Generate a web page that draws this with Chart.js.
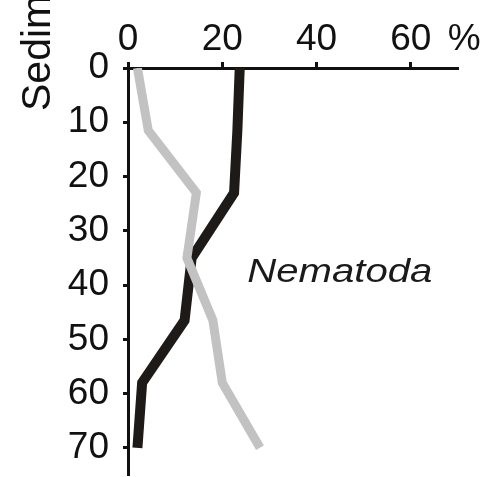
<!DOCTYPE html>
<html>
<head>
<meta charset="utf-8">
<script src="https://cdn.jsdelivr.net/npm/chart.js@4.4.1/dist/chart.umd.min.js"></script>
<style>
  html, body { margin: 0; padding: 0; background: #fff; overflow: hidden; }
  canvas { display: block; }
</style>
</head>
<body>
<canvas id="chart" width="483" height="477"></canvas>
<script>
// depth (cm) of each sample
const depths = [0, 11.5, 23, 35, 46.5, 58, 70];
// percentage per depth
const greySeries = [2, 4.3, 14.5, 12.5, 18, 20, 28];
const blackSeries = [23.7, 23.2, 22.5, 13.5, 12, 3, 2];
const xTicks = [0, 20, 40, 60];
const yTicks = [0, 10, 20, 30, 40, 50, 60, 70];

const font = 'Liberation Sans, Arial, sans-serif';

const toPoints = (vals) => vals.map((v, i) => ({ x: v, y: depths[i] }));

const extras = {
  id: 'extras',
  afterDraw(chart) {
    const ctx = chart.ctx;
    const xs = chart.scales.x, ys = chart.scales.y;
    ctx.save();
    ctx.fillStyle = '#111';
    // "%" after the last x tick label
    ctx.font = '37px ' + font;
    ctx.textBaseline = 'alphabetic';
    ctx.textAlign = 'left';
    ctx.fillText('%', xs.getPixelForValue(60) + 37, 50);
    // cropped y title
    ctx.font = '41px ' + font;
    ctx.translate(50, 111);
    ctx.rotate(-Math.PI / 2);
    ctx.fillText('Sediment depth (cm)', 0, 0);
    ctx.restore();

    // taxon label
    ctx.save();
    ctx.fillStyle = '#1a1a1a';
    ctx.font = 'italic 34px ' + font;
    ctx.translate(xs.getPixelForValue(25.3), ys.getPixelForValue(39.5));
    ctx.scale(1.18, 1);
    ctx.fillText('Nematoda', 0, 0);
    ctx.restore();
  }
};

new Chart(document.getElementById('chart'), {
  type: 'scatter',
  data: {
    datasets: [
      {
        label: 'grey',
        data: toPoints(greySeries),
        showLine: true,
        borderColor: '#c2c2c2',
        borderWidth: 9,
        pointRadius: 0,
        borderCapStyle: 'butt',
        borderJoinStyle: 'miter'
      },
      {
        label: 'black',
        data: toPoints(blackSeries),
        showLine: true,
        borderColor: '#1e1a18',
        borderWidth: 10,
        pointRadius: 0,
        borderCapStyle: 'butt',
        borderJoinStyle: 'miter'
      }
    ]
  },
  options: {
    responsive: false,
    animation: false,
    layout: { padding: { right: 25, bottom: 2, top: 0, left: 0 } },
    plugins: { legend: { display: false }, tooltip: { enabled: false } },
    scales: {
      x: {
        type: 'linear',
        position: 'top',
        min: 0,
        max: 70,
        afterFit: (s) => { s.height = 68; s.paddingLeft = 0; s.paddingRight = 0; },
        afterBuildTicks: (s) => { s.ticks = xTicks.map(v => ({ value: v })); },
        ticks: { font: { family: font, size: 37 }, color: '#111', padding: 0 },
        grid: { drawOnChartArea: false, tickLength: 6, tickWidth: 3, tickColor: '#111' },
        border: { color: '#111', width: 3 }
      },
      y: {
        type: 'linear',
        reverse: true,
        min: 0,
        max: 75,
        afterFit: (s) => { s.width = 128; s.paddingTop = 0; s.paddingBottom = 0; },
        afterBuildTicks: (s) => { s.ticks = yTicks.map(v => ({ value: v })); },
        ticks: { font: { family: font, size: 37 }, color: '#111', padding: 14 },
        grid: { drawOnChartArea: false, tickLength: 5, tickWidth: 3, tickColor: '#111' },
        border: { color: '#111', width: 3 }
      }
    }
  },
  plugins: [extras]
});
</script>
</body>
</html>
